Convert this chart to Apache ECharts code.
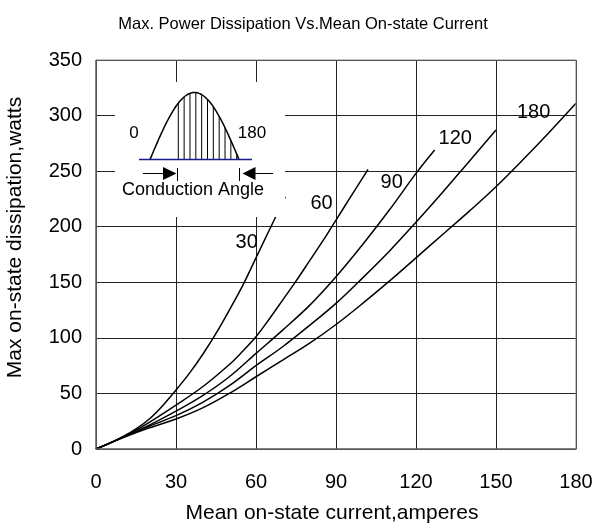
<!DOCTYPE html>
<html>
<head>
<meta charset="utf-8">
<script src="https://cdn.jsdelivr.net/npm/echarts@6/dist/echarts.min.js"></script>
<style>
  html, body { margin: 0; padding: 0; background: #fff; }
  #main { width: 597px; height: 525px; }
</style>
</head>
<body>
<div id="main"></div>
<script>
// mean on-state current (A) / max power dissipation (W), one pair per conduction angle
const cur30 = [0, 5, 10, 15, 20, 25, 30, 35, 40, 45, 50, 55, 60, 65, 71];
const pw30 = [0, 5, 11, 18, 27, 39, 53, 68, 85, 104, 125, 147, 172, 197, 227];
const cur60 = [0, 10, 20, 30, 40, 50, 55, 60, 65, 70, 75, 80, 85, 90, 95, 100, 102];
const pw60 = [0, 10.5, 24, 39.5, 56, 76, 88, 101, 117, 134, 151, 169, 187, 206, 225, 244, 251.5];
const cur90 = [0, 10, 20, 30, 40, 50, 60, 70, 80, 90, 100, 110, 120, 127];
const pw90 = [0, 10.5, 21.5, 34, 48, 65, 86, 107, 129, 155, 184, 215, 248, 269];
const cur120 = [0, 10, 20, 30, 40, 50, 60, 70, 80, 90, 100, 110, 120, 130, 140, 150];
const pw120 = [0, 10.5, 20.5, 30, 42, 57, 75, 92, 111, 131, 154, 178, 204, 231, 259, 287];
const cur180 = [0, 10, 20, 30, 40, 50, 60, 70, 80, 90, 100, 110, 120, 130, 140, 150, 160, 170, 180];
const pw180 = [0, 10, 19, 27, 37, 50, 65, 80, 95, 112, 131, 151, 172, 193, 214, 236, 260, 285, 311];

const angleNames = ['30', '60', '90', '120', '180'];
// where each curve's label sits, in data units
const labelX = [56.5, 84.6, 110.9, 134.7, 164.1];
const labelY = [186, 221, 240, 279, 302.5];

const font = 'Liberation Sans, Arial, sans-serif';

function pairs(xs, ys) {
  return xs.map((x, i) => [x, ys[i]]);
}

const curves = [
  pairs(cur30, pw30),
  pairs(cur60, pw60),
  pairs(cur90, pw90),
  pairs(cur120, pw120),
  pairs(cur180, pw180)
];

const chart = echarts.init(document.getElementById('main'));

chart.setOption({
  animation: false,
  backgroundColor: '#fff',
  title: {
    text: 'Max. Power Dissipation Vs.Mean On-state Current',
    left: 298,
    textAlign: 'center',
    top: 11,
    textStyle: { fontFamily: font, fontSize: 16.5, fontWeight: 'normal', color: '#000' }
  },
  grid: { left: 96, right: 21, top: 60, bottom: 76, containLabel: false, outerBoundsMode: 'none' },
  xAxis: {
    type: 'value',
    min: 0, max: 180, interval: 30,
    name: 'Mean on-state current,amperes',
    nameLocation: 'middle',
    nameGap: 54,
    nameTextStyle: { fontFamily: font, fontSize: 21, color: '#000', padding: [0, 8, 0, 0] },
    axisLine: { show: true, lineStyle: { color: '#444', width: 1 } },
    axisTick: { show: false },
    axisLabel: { fontFamily: font, fontSize: 20, color: '#000', margin: 23 },
    splitLine: { show: true, lineStyle: { color: '#222', width: 1 } }
  },
  yAxis: {
    type: 'value',
    min: 0, max: 350, interval: 50,
    name: 'Max on-state dissipation,watts',
    nameLocation: 'middle',
    nameGap: 70,
    nameTextStyle: { fontFamily: font, fontSize: 21, color: '#000', padding: [0, 0, 0, 34] },
    axisLine: { show: true, lineStyle: { color: '#444', width: 1 } },
    axisTick: { show: false },
    axisLabel: { fontFamily: font, fontSize: 20, color: '#000', margin: 14 },
    splitLine: { show: true, lineStyle: { color: '#222', width: 1 } }
  },
  series: curves.map((d, i) => ({
    name: angleNames[i],
    type: 'line',
    data: d,
    smooth: 0.35,
    showSymbol: false,
    lineStyle: { color: '#000', width: 1.5 },
    z: 3
  }))
});

// frame on top and right, as in the scan
const rect = chart.getModel().getComponent('grid').coordinateSystem.getRect();
const elems = [];
elems.push({
  type: 'rect', z: 50, silent: true,
  shape: { x: rect.x, y: rect.y, width: rect.width, height: rect.height },
  style: { fill: 'none', stroke: '#888', lineWidth: 1 }
});
elems.push({
  type: 'polyline', z: 51, silent: true,
  shape: { points: [[rect.x, rect.y], [rect.x, rect.y + rect.height], [rect.x + rect.width, rect.y + rect.height]] },
  style: { fill: 'none', stroke: '#444', lineWidth: 1 }
});

// curve labels
angleNames.forEach((t, i) => {
  const p = chart.convertToPixel({ gridIndex: 0 }, [labelX[i], labelY[i]]);
  elems.push({
    type: 'text', z: 60, silent: true,
    x: p[0], y: p[1],
    style: { text: t, font: '20px ' + font, fill: '#000', align: 'center', verticalAlign: 'middle' }
  });
});

// inset: conduction angle sketch
elems.push({
  type: 'rect', z: 100, silent: true,
  shape: { x: 115, y: 82, width: 170, height: 135 },
  style: { fill: '#fff' }
});
const baseY = 159.5, hx0 = 150, hx1 = 239, hH = 67;
function humpY(x) {
  return baseY - hH * Math.sin(Math.PI * (x - hx0) / (hx1 - hx0));
}
const humpPts = [];
for (let x = hx0; x <= hx1 + 0.01; x += 1) humpPts.push([x, humpY(x)]);
elems.push({
  type: 'polyline', z: 101, silent: true,
  shape: { points: humpPts },
  style: { fill: 'none', stroke: '#000', lineWidth: 1.5 }
});
for (let i = 0; i < 11; i++) {
  const x = 178.3 + i * 5.84;
  elems.push({
    type: 'line', z: 101, silent: true,
    shape: { x1: x, y1: baseY, x2: x, y2: humpY(x) },
    style: { stroke: '#000', lineWidth: 1 }
  });
}
elems.push({
  type: 'line', z: 102, silent: true,
  shape: { x1: 139, y1: baseY, x2: 252, y2: baseY },
  style: { stroke: '#1a1a8c', lineWidth: 1.5 }
});
// arrows
elems.push({ type: 'line', z: 101, silent: true, shape: { x1: 143, y1: 173.5, x2: 165, y2: 173.5 }, style: { stroke: '#000', lineWidth: 1 } });
elems.push({ type: 'polygon', z: 101, silent: true, shape: { points: [[163, 167], [176.5, 173.5], [163, 180]] }, style: { fill: '#000' } });
elems.push({ type: 'line', z: 101, silent: true, shape: { x1: 177.5, y1: 168, x2: 177.5, y2: 181 }, style: { stroke: '#000', lineWidth: 1 } });
elems.push({ type: 'line', z: 101, silent: true, shape: { x1: 239.5, y1: 168, x2: 239.5, y2: 181 }, style: { stroke: '#000', lineWidth: 1 } });
elems.push({ type: 'polygon', z: 101, silent: true, shape: { points: [[255.5, 167], [242.5, 173.5], [255.5, 180]] }, style: { fill: '#000' } });
elems.push({ type: 'line', z: 101, silent: true, shape: { x1: 254, y1: 173.5, x2: 273, y2: 173.5 }, style: { stroke: '#000', lineWidth: 1 } });
elems.push({
  type: 'text', z: 102, silent: true, x: 134, y: 133,
  style: { text: '0', font: '17px ' + font, fill: '#000', align: 'center', verticalAlign: 'middle' }
});
elems.push({
  type: 'text', z: 102, silent: true, x: 252, y: 133,
  style: { text: '180', font: '17px ' + font, fill: '#000', align: 'center', verticalAlign: 'middle' }
});
elems.push({
  type: 'text', z: 102, silent: true, x: 193, y: 190.5,
  style: { text: 'Conduction Angle', font: '18px ' + font, fill: '#000', align: 'center', verticalAlign: 'middle' }
});

chart.setOption({ graphic: { elements: elems } });
</script>
</body>
</html>
